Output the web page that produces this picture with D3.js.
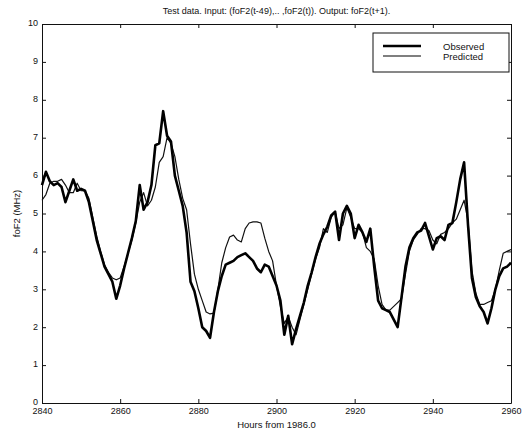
<!DOCTYPE html>
<html>
<head>
<meta charset="utf-8">
<script src="https://cdn.jsdelivr.net/npm/d3@7"></script>
<style>
  html, body { margin: 0; padding: 0; background: #fff; }
  svg { display: block; font-family: "Liberation Sans", Arial, Helvetica, sans-serif; }
  .axis text { font-size: 9px; fill: #111; }
  .axis path, .axis line { stroke: #111; stroke-width: 1; }
</style>
</head>
<body>
<svg id="chart" width="527" height="432"></svg>
<script>
// Hours from 1986.0 (one sample per hour)
const hourStart = 2840;
const hourEnd = 2960;

// Observed foF2 (MHz), hourly from 2840 to 2960
const observed = [
  5.75, 6.1, 5.85, 5.75, 5.8, 5.7, 5.3, 5.6, 5.9, 5.6,
  5.65, 5.6, 5.3, 4.8, 4.3, 3.95, 3.6, 3.4, 3.2, 2.75,
  3.1, 3.55, 3.95, 4.35, 4.8, 5.75, 5.1, 5.3, 5.75, 6.8,
  6.85, 7.7, 7.05, 6.9, 6.0, 5.6, 5.2, 4.5, 3.2, 2.95,
  2.5, 2.0, 1.9, 1.72, 2.4, 2.95, 3.35, 3.65, 3.7, 3.75,
  3.85, 3.9, 3.95, 3.85, 3.75, 3.55, 3.45, 3.65, 3.6, 3.35,
  3.1, 2.7, 1.8, 2.3, 1.55, 1.95, 2.3, 2.65, 3.1, 3.45,
  3.85, 4.2, 4.45, 4.65, 4.95, 5.05, 4.3, 5.0, 5.2, 5.0,
  4.35, 4.7, 4.5, 4.25, 4.6, 3.6, 2.7, 2.5, 2.45, 2.4,
  2.2, 2.0, 2.8, 3.6, 4.1, 4.35, 4.5, 4.55, 4.75, 4.4,
  4.05, 4.35, 4.4, 4.3, 4.7, 4.75, 5.3, 5.9, 6.35, 4.7,
  3.3, 2.8, 2.55, 2.4, 2.1, 2.5, 3.0, 3.35, 3.55, 3.6,
  3.7
];

// Predicted foF2 (MHz), hourly from 2840 to 2960
const predicted = [
  5.35, 5.5, 5.8, 5.85, 5.85, 5.9, 5.75, 5.55, 5.55, 5.8,
  5.6, 5.6, 5.4, 4.9, 4.4, 4.0, 3.65, 3.45, 3.3, 3.25,
  3.3, 3.6, 3.95, 4.3, 4.75, 5.3, 5.55, 5.2, 5.35, 5.7,
  6.35, 6.5, 7.0, 6.85, 6.5, 5.9, 5.4, 5.1, 4.2, 3.4,
  3.0, 2.7, 2.4, 2.35, 2.37, 3.0, 3.7, 4.1, 4.38, 4.43,
  4.3, 4.25, 4.6, 4.75, 4.78, 4.78, 4.75, 4.35, 4.0, 3.75,
  3.1, 2.55, 2.1, 2.28, 2.0, 1.8, 2.2, 2.6, 3.0, 3.4,
  3.8, 4.1, 4.6, 4.5, 4.9, 5.05, 4.6, 4.7, 5.15, 4.9,
  4.6, 4.6, 4.5, 4.1, 4.0, 3.8, 3.1, 2.6, 2.45, 2.45,
  2.55, 2.65, 2.75, 3.4, 4.0, 4.3, 4.45, 4.6, 4.6, 4.55,
  4.3, 4.2, 4.45, 4.5, 4.6, 4.75, 4.85, 5.1, 5.35, 4.8,
  3.5, 2.9, 2.6, 2.6, 2.65, 2.7, 3.0, 3.5, 3.95, 4.0,
  4.05
];

const xTicks = [2840, 2860, 2880, 2900, 2920, 2940, 2960];
const yTicks = [0, 1, 2, 3, 4, 5, 6, 7, 8, 9, 10];

const titleText = "Test data. Input: (foF2(t-49),.. ,foF2(t)). Output: foF2(t+1).";
const xLabel = "Hours from 1986.0";
const yLabel = "foF2 (MHz)";
const seriesNames = ["Observed", "Predicted"];

const svg = d3.select("#chart");
const plot = { left: 42, right: 511, top: 24, bottom: 403 };

const x = d3.scaleLinear().domain([hourStart, hourEnd]).range([plot.left, plot.right]);
const y = d3.scaleLinear().domain([0, 10]).range([plot.bottom, plot.top]);

// Axes with inward ticks on all four sides (box style)
svg.append("g").attr("class", "axis")
  .attr("transform", `translate(0,${plot.bottom})`)
  .call(d3.axisBottom(x).tickValues(xTicks).tickFormat(d3.format("d"))
    .tickSizeInner(-4).tickSizeOuter(0).tickPadding(5));

const yAxis = svg.append("g").attr("class", "axis")
  .attr("transform", `translate(${plot.left},0)`)
  .call(d3.axisLeft(y).tickValues(yTicks).tickFormat(d3.format("d"))
    .tickSizeInner(-4).tickSizeOuter(0).tickPadding(4));
// lift the labels a touch so "0" clears the hour labels below it
yAxis.selectAll(".tick text").attr("dy", "0.2em");

svg.append("g").attr("class", "axis")
  .attr("transform", `translate(0,${plot.top})`)
  .call(d3.axisTop(x).tickValues(xTicks).tickFormat("")
    .tickSizeInner(-4).tickSizeOuter(0));

svg.append("g").attr("class", "axis")
  .attr("transform", `translate(${plot.right},0)`)
  .call(d3.axisRight(y).tickValues(yTicks).tickFormat("")
    .tickSizeInner(-4).tickSizeOuter(0));

// Lines
const hours = d3.range(hourStart, hourEnd + 1);
const line = d3.line()
  .x((d, i) => x(hours[i]))
  .y(d => y(d));

svg.append("path")
  .datum(predicted)
  .attr("fill", "none")
  .attr("stroke", "#111")
  .attr("stroke-width", 1.2)
  .attr("stroke-linejoin", "round")
  .attr("d", line);

svg.append("path")
  .datum(observed)
  .attr("fill", "none")
  .attr("stroke", "#000")
  .attr("stroke-width", 2.6)
  .attr("stroke-linejoin", "round")
  .attr("d", line);

// Title and axis labels
svg.append("text")
  .attr("x", (plot.left + plot.right) / 2)
  .attr("y", 14)
  .attr("text-anchor", "middle")
  .attr("font-size", 9)
  .attr("fill", "#111")
  .text(titleText);

svg.append("text")
  .attr("x", (plot.left + plot.right) / 2)
  .attr("y", 428)
  .attr("text-anchor", "middle")
  .attr("font-size", 9.5)
  .attr("fill", "#111")
  .text(xLabel);

svg.append("text")
  .attr("transform", `translate(20,${(plot.top + plot.bottom) / 2}) rotate(-90)`)
  .attr("text-anchor", "middle")
  .attr("font-size", 9.5)
  .attr("fill", "#111")
  .text(yLabel);

// Legend
const legend = svg.append("g").attr("transform", "translate(373,33)");
legend.append("rect")
  .attr("width", 136).attr("height", 39)
  .attr("fill", "#fff").attr("stroke", "#111").attr("stroke-width", 1);
const legendWidths = [2.6, 1.2];
seriesNames.forEach((name, i) => {
  const ly = 13 + i * 10;
  legend.append("line")
    .attr("x1", 10).attr("x2", 48)
    .attr("y1", ly).attr("y2", ly)
    .attr("stroke", "#000").attr("stroke-width", legendWidths[i]);
  legend.append("text")
    .attr("x", 70).attr("y", ly + 3.5)
    .attr("font-size", 9.5)
    .attr("fill", "#111")
    .text(name);
});
</script>
</body>
</html>
